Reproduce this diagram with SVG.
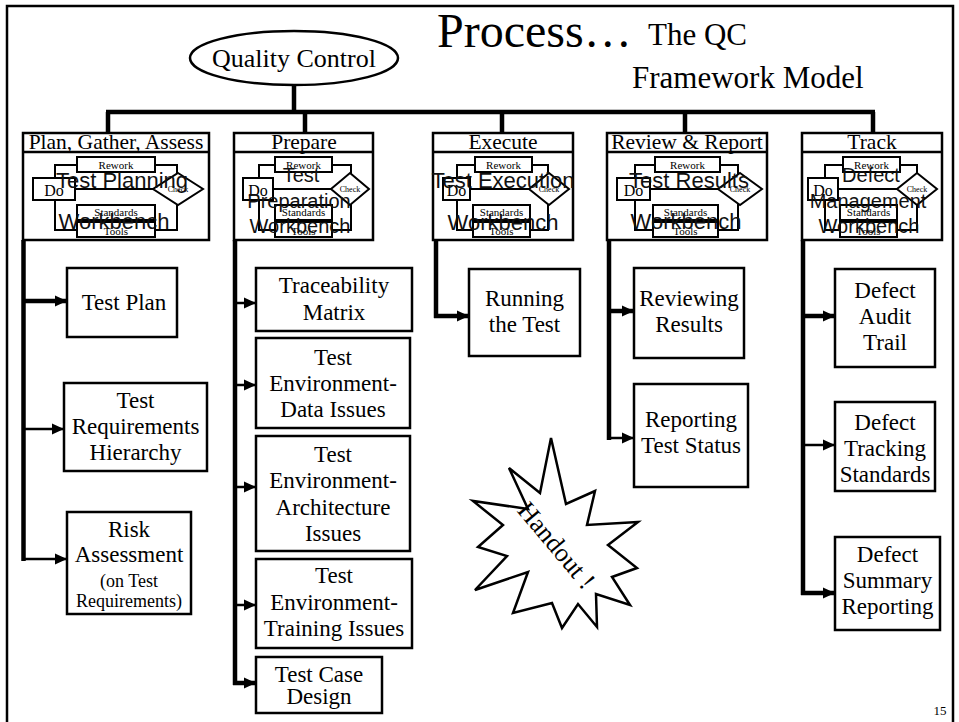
<svg xmlns="http://www.w3.org/2000/svg" width="959" height="722" viewBox="0 0 959 722">
  <style>
    .frame { fill: none; stroke: #000; stroke-width: 2.5; }
    .box { fill: #fff; stroke: #000; stroke-width: 2.5; }
    .wb { fill: #fff; stroke: #000; stroke-width: 2; }
    .loop { fill: none; stroke: #000; stroke-width: 2; }
    .serif { font-family: "Liberation Serif", "Times New Roman", serif; fill: #000; }
    .hdr { font-size: 21.5px; text-anchor: middle; }
    .lbl { font-size: 23px; text-anchor: middle; }
    .small { font-size: 18px; text-anchor: middle; }
    .rw { font-size: 11px; text-anchor: middle; }
    .do { font-size: 16px; text-anchor: middle; }
    .ck { font-size: 8px; text-anchor: middle; }
    .big { font-family: "Liberation Sans", Arial, sans-serif; font-size: 22px; text-anchor: middle; fill: #111; }
    .big3 { font-family: "Liberation Sans", Arial, sans-serif; font-size: 20px; text-anchor: middle; fill: #111; }
    .trunk { stroke: #000; stroke-width: 4.5; fill: none; }
    .thick { stroke: #000; stroke-width: 4.5; fill: none; }
    .thin { stroke: #000; stroke-width: 2.5; fill: none; }
  </style>
  <defs>
    <marker id="arrow" markerUnits="userSpaceOnUse" markerWidth="12" markerHeight="12" refX="12" refY="6" orient="auto">
      <path d="M0,0.5 L12,6 L0,11.5 z" fill="#000"/>
    </marker>
  </defs>

  <rect width="959" height="722" fill="#fff"/>

  <!-- slide frame -->
  <path class="frame" d="M7,722 V6 H953 V722"/>

  <!-- title -->
  <g id="title" class="serif">
    <text x="437" y="47" font-size="48">Process…</text>
    <text x="648" y="45" font-size="31">The QC</text>
    <text x="632" y="88" font-size="31">Framework Model</text>
  </g>

  <!-- root node -->
  <g id="quality-control">
    <ellipse cx="294" cy="58" rx="104" ry="27" class="box"/>
    <text x="294" y="67" class="serif" font-size="26" text-anchor="middle">Quality Control</text>
  </g>

  <!-- connectors -->
  <g id="connectors">
    <!-- tree from root to phases -->
    <path class="trunk" d="M294,85 V112"/>
    <path class="trunk" d="M106,112 H875"/>
    <path class="trunk" d="M108,112 V133 M305,112 V133 M502,112 V133 M685,112 V133 M873,112 V133"/>

    <!-- Plan, Gather, Assess -->
    <path class="trunk" d="M23.5,240 V561"/>
    <path class="thick" d="M23.5,301 H67" marker-end="url(#arrow)"/>
    <path class="thin" d="M23.5,429 H64" marker-end="url(#arrow)"/>
    <path class="thin" d="M22,559 H67" marker-end="url(#arrow)"/>

    <!-- Prepare -->
    <path class="trunk" d="M235,240 V685"/>
    <path class="thin" d="M235,303 H256" marker-end="url(#arrow)"/>
    <path class="thin" d="M235,385 H256" marker-end="url(#arrow)"/>
    <path class="thin" d="M235,487 H256" marker-end="url(#arrow)"/>
    <path class="thin" d="M235,605 H256" marker-end="url(#arrow)"/>
    <path class="thick" d="M233,683 H256" marker-end="url(#arrow)"/>

    <!-- Execute -->
    <path class="trunk" d="M436,240 V318"/>
    <path class="thick" d="M434,316 H469" marker-end="url(#arrow)"/>

    <!-- Review & Report -->
    <path class="trunk" d="M609,240 V440"/>
    <path class="thick" d="M609,311 H634" marker-end="url(#arrow)"/>
    <path class="thin" d="M607.5,438 H634" marker-end="url(#arrow)"/>

    <!-- Track -->
    <path class="trunk" d="M803,240 V595"/>
    <path class="thick" d="M803,316 H835" marker-end="url(#arrow)"/>
    <path class="thin" d="M803,445 H835" marker-end="url(#arrow)"/>
    <path class="thick" d="M801,593 H835" marker-end="url(#arrow)"/>
  </g>

  <!-- phase 1: Plan, Gather, Assess -->
  <g id="phase-plan">
    <rect x="23" y="133" width="186" height="107" class="box"/>
    <line x1="23" y1="152" x2="209" y2="152" stroke="#000" stroke-width="2.5"/>
    <text x="116" y="149" class="serif hdr">Plan, Gather, Assess</text>
    <rect x="55" y="165" width="122" height="65" class="loop"/>
    <line x1="75" y1="189" x2="153" y2="189" stroke="#000" stroke-width="2"/>
    <rect x="77" y="157" width="78" height="15" class="wb"/>
    <rect x="33" y="178" width="42" height="22" class="wb"/>
    <polygon points="178,173 203,189 178,205 153,189" class="wb"/>
    <rect x="77" y="205" width="78" height="15" class="wb"/>
    <rect x="77" y="222" width="78" height="15" class="wb"/>
    <text x="116" y="169" class="serif rw">Rework</text>
    <text x="54" y="196" class="serif do">Do</text>
    <text x="178" y="192" class="serif ck">Check</text>
    <text x="116" y="216" class="serif rw">Standards</text>
    <text x="116" y="235" class="serif rw">Tools</text>
    <text x="122" y="188" class="big">Test Planning</text>
    <text x="114" y="229" class="big">Workbench</text>
  </g>

  <!-- phase 2: Prepare -->
  <g id="phase-prepare">
    <rect x="234" y="133" width="139" height="107" class="box"/>
    <line x1="234" y1="152" x2="373" y2="152" stroke="#000" stroke-width="2.5"/>
    <text x="304" y="149" class="serif hdr">Prepare</text>
    <rect x="259" y="165" width="92" height="65" class="loop"/>
    <line x1="273" y1="189" x2="331" y2="189" stroke="#000" stroke-width="2"/>
    <rect x="275" y="157" width="57" height="15" class="wb"/>
    <rect x="243" y="178" width="30" height="22" class="wb"/>
    <polygon points="350,173 369,189 350,205 331,189" class="wb"/>
    <rect x="275" y="205" width="57" height="15" class="wb"/>
    <rect x="275" y="222" width="57" height="15" class="wb"/>
    <text x="303.5" y="169" class="serif rw">Rework</text>
    <text x="258" y="196" class="serif do">Do</text>
    <text x="350" y="192" class="serif ck">Check</text>
    <text x="303.5" y="216" class="serif rw">Standards</text>
    <text x="303.5" y="235" class="serif rw">Tools</text>
    <text x="301" y="182" class="big3">Test</text>
    <text x="299" y="208" class="big3">Preparation</text>
    <text x="300" y="233" class="big3">Workbench</text>
  </g>

  <!-- phase 3: Execute -->
  <g id="phase-execute">
    <rect x="433" y="133" width="140" height="107" class="box"/>
    <line x1="433" y1="152" x2="573" y2="152" stroke="#000" stroke-width="2.5"/>
    <text x="503" y="149" class="serif hdr">Execute</text>
    <rect x="457" y="165" width="91" height="65" class="loop"/>
    <line x1="470" y1="189" x2="529" y2="189" stroke="#000" stroke-width="2"/>
    <rect x="475" y="157" width="57" height="15" class="wb"/>
    <rect x="443" y="178" width="27" height="22" class="wb"/>
    <polygon points="549,173 569,189 549,205 529,189" class="wb"/>
    <rect x="473" y="205" width="57" height="15" class="wb"/>
    <rect x="473" y="222" width="57" height="15" class="wb"/>
    <text x="503.5" y="169" class="serif rw">Rework</text>
    <text x="456.5" y="196" class="serif do">Do</text>
    <text x="549" y="192" class="serif ck">Check</text>
    <text x="501.5" y="216" class="serif rw">Standards</text>
    <text x="501.5" y="235" class="serif rw">Tools</text>
    <text x="503" y="188" class="big">Test Execution</text>
    <text x="503" y="230" class="big">Workbench</text>
  </g>

  <!-- phase 4: Review & Report -->
  <g id="phase-review">
    <rect x="607" y="133" width="160" height="107" class="box"/>
    <line x1="607" y1="152" x2="767" y2="152" stroke="#000" stroke-width="2.5"/>
    <text x="687" y="149" class="serif hdr">Review &amp; Report</text>
    <rect x="635" y="165" width="103" height="65" class="loop"/>
    <line x1="650" y1="189" x2="718" y2="189" stroke="#000" stroke-width="2"/>
    <rect x="655" y="157" width="65" height="15" class="wb"/>
    <rect x="617" y="178" width="33" height="22" class="wb"/>
    <polygon points="740,173 762,189 740,205 718,189" class="wb"/>
    <rect x="653" y="205" width="65" height="15" class="wb"/>
    <rect x="653" y="222" width="65" height="15" class="wb"/>
    <text x="687.5" y="169" class="serif rw">Rework</text>
    <text x="633.5" y="196" class="serif do">Do</text>
    <text x="740" y="192" class="serif ck">Check</text>
    <text x="685.5" y="216" class="serif rw">Standards</text>
    <text x="685.5" y="235" class="serif rw">Tools</text>
    <text x="689" y="188" class="big">Test Results</text>
    <text x="686" y="229" class="big">Workbench</text>
  </g>

  <!-- phase 5: Track -->
  <g id="phase-track">
    <rect x="802" y="133" width="140" height="107" class="box"/>
    <line x1="802" y1="152" x2="942" y2="152" stroke="#000" stroke-width="2.5"/>
    <text x="872" y="149" class="serif hdr">Track</text>
    <rect x="825" y="165" width="92" height="65" class="loop"/>
    <line x1="838" y1="189" x2="897" y2="189" stroke="#000" stroke-width="2"/>
    <rect x="843" y="157" width="57" height="15" class="wb"/>
    <rect x="808" y="178" width="30" height="22" class="wb"/>
    <polygon points="917,173 937,189 917,205 897,189" class="wb"/>
    <rect x="840" y="205" width="57" height="15" class="wb"/>
    <rect x="840" y="222" width="57" height="15" class="wb"/>
    <text x="871.5" y="169" class="serif rw">Rework</text>
    <text x="823" y="196" class="serif do">Do</text>
    <text x="917" y="192" class="serif ck">Check</text>
    <text x="868.5" y="216" class="serif rw">Standards</text>
    <text x="868.5" y="235" class="serif rw">Tools</text>
    <text x="871" y="182" class="big3">Defect</text>
    <text x="868" y="208" class="big3">Management</text>
    <text x="869" y="233" class="big3">Workbench</text>
  </g>

  <!-- Plan, Gather, Assess deliverables -->
  <g id="test-plan">
    <rect x="67" y="268" width="110" height="69" class="box"/>
    <text x="124" y="310" class="serif lbl">Test Plan</text>
  </g>
  <g id="test-requirements-hierarchy">
    <rect x="64" y="383" width="143" height="88" class="box"/>
    <text x="135.5" y="408" class="serif lbl">Test</text>
    <text x="135.5" y="434" class="serif lbl">Requirements</text>
    <text x="135.5" y="460" class="serif lbl">Hierarchy</text>
  </g>
  <g id="risk-assessment">
    <rect x="67" y="512" width="124" height="102" class="box"/>
    <text x="129" y="537" class="serif lbl">Risk</text>
    <text x="129" y="562" class="serif lbl">Assessment</text>
    <text x="129" y="587" class="serif small">(on Test</text>
    <text x="129" y="607" class="serif small">Requirements)</text>
  </g>

  <!-- Prepare deliverables -->
  <g id="traceability-matrix">
    <rect x="256" y="268" width="156" height="63" class="box"/>
    <text x="334" y="293" class="serif lbl">Traceability</text>
    <text x="334" y="320" class="serif lbl">Matrix</text>
  </g>
  <g id="env-data-issues">
    <rect x="256" y="338" width="154" height="90" class="box"/>
    <text x="333" y="365" class="serif lbl">Test</text>
    <text x="333" y="391" class="serif lbl">Environment-</text>
    <text x="333" y="417" class="serif lbl">Data Issues</text>
  </g>
  <g id="env-architecture-issues">
    <rect x="256" y="436" width="154" height="115" class="box"/>
    <text x="333" y="462" class="serif lbl">Test</text>
    <text x="333" y="488" class="serif lbl">Environment-</text>
    <text x="333" y="515" class="serif lbl">Architecture</text>
    <text x="333" y="541" class="serif lbl">Issues</text>
  </g>
  <g id="env-training-issues">
    <rect x="256" y="559" width="156" height="89" class="box"/>
    <text x="334" y="583" class="serif lbl">Test</text>
    <text x="334" y="610" class="serif lbl">Environment-</text>
    <text x="334" y="636" class="serif lbl">Training Issues</text>
  </g>
  <g id="test-case-design">
    <rect x="256" y="657" width="126" height="56" class="box"/>
    <text x="319" y="682" class="serif lbl">Test Case</text>
    <text x="319" y="704" class="serif lbl">Design</text>
  </g>

  <!-- Execute deliverable -->
  <g id="running-the-test">
    <rect x="469" y="269" width="111" height="87" class="box"/>
    <text x="524.5" y="306" class="serif lbl">Running</text>
    <text x="524.5" y="332" class="serif lbl">the Test</text>
  </g>

  <!-- Review & Report deliverables -->
  <g id="reviewing-results">
    <rect x="634" y="268" width="110" height="90" class="box"/>
    <text x="689" y="306" class="serif lbl">Reviewing</text>
    <text x="689" y="332" class="serif lbl">Results</text>
  </g>
  <g id="reporting-test-status">
    <rect x="634" y="384" width="114" height="103" class="box"/>
    <text x="691" y="427" class="serif lbl">Reporting</text>
    <text x="691" y="453" class="serif lbl">Test Status</text>
  </g>

  <!-- Track deliverables -->
  <g id="defect-audit-trail">
    <rect x="835" y="269" width="100" height="98" class="box"/>
    <text x="885" y="298" class="serif lbl">Defect</text>
    <text x="885" y="324" class="serif lbl">Audit</text>
    <text x="885" y="350" class="serif lbl">Trail</text>
  </g>
  <g id="defect-tracking-standards">
    <rect x="835" y="402" width="100" height="89" class="box"/>
    <text x="885" y="430" class="serif lbl">Defect</text>
    <text x="885" y="456" class="serif lbl">Tracking</text>
    <text x="885" y="482" class="serif lbl">Standards</text>
  </g>
  <g id="defect-summary-reporting">
    <rect x="835" y="537" width="105" height="93" class="box"/>
    <text x="887.5" y="562" class="serif lbl">Defect</text>
    <text x="887.5" y="588" class="serif lbl">Summary</text>
    <text x="887.5" y="614" class="serif lbl">Reporting</text>
  </g>

  <!-- handout starburst -->
  <g id="handout">
    <polygon class="box" points="551,438 566,504 595,491 587,525 638,522 608,545 637,568 612,577 630,605 596,594 597,627 578,604 562,628 552,603 513,613 528,572 475,590 507,556 478,547 503,525 473,501 528,509 509,468 540,493"/>
    <text x="550" y="551" class="serif" font-size="26" text-anchor="middle" transform="rotate(50 550 551)">Handout !</text>
  </g>

  <!-- page number -->
  <text x="940" y="715" class="serif" font-size="13" text-anchor="middle">15</text>
</svg>
